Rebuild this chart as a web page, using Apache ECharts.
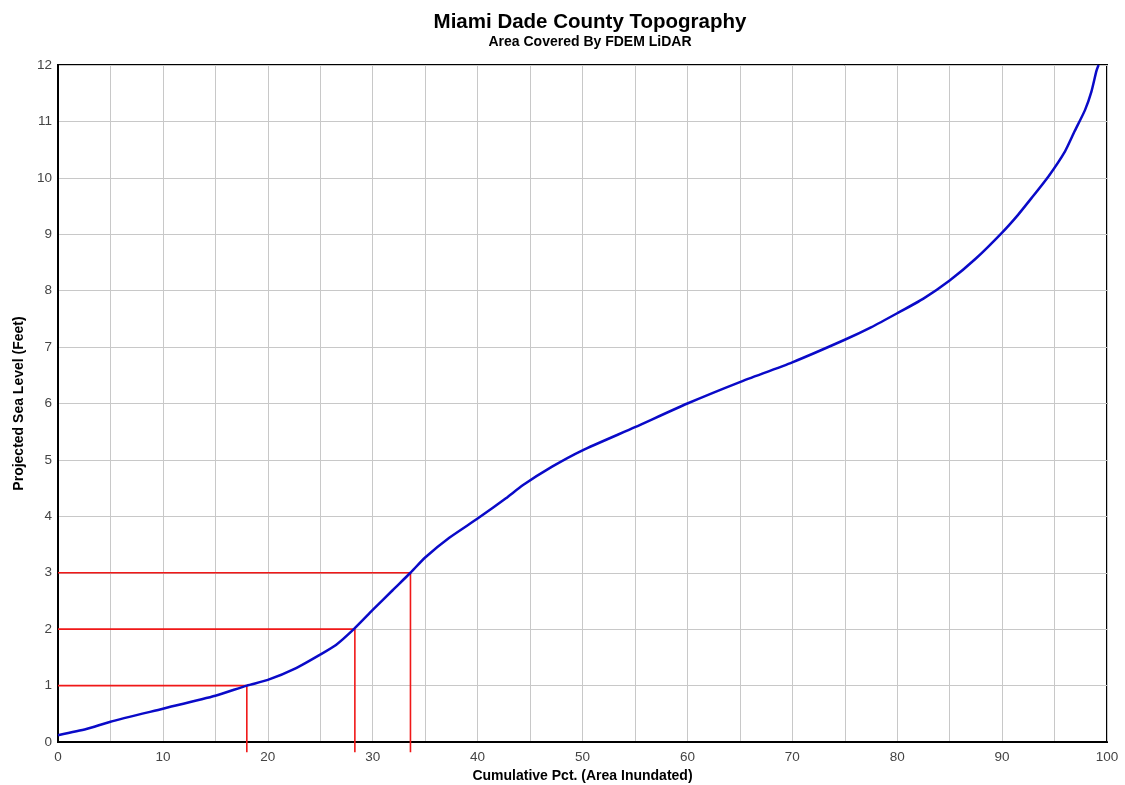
<!DOCTYPE html>
<html>
<head>
<meta charset="utf-8">
<script src="https://cdn.jsdelivr.net/npm/echarts@6/dist/echarts.min.js"></script>
<style>
  html, body { margin: 0; padding: 0; background: #fff; }
  #chart { width: 1125px; height: 785px; }
</style>
</head>
<body>
<div id="chart"></div>
<script>
// cumulative pct of area vs projected sea level
const pctArea = [0, 2.7, 5, 10, 15, 18, 20, 22.7, 25, 26.5, 28.2, 30, 31.9, 33.6, 35, 37.3, 40, 42.7, 44.3, 47.1, 50, 55, 60, 65, 70, 75, 77.5, 80, 82.5, 85, 87.5, 90, 91.5, 92.8, 94.4, 96, 96.9, 97.9, 98.5, 99, 99.2]
const seaLevel = [0.12, 0.23, 0.36, 0.59, 0.82, 1.0, 1.1, 1.31, 1.55, 1.72, 2.0, 2.34, 2.69, 3.0, 3.27, 3.62, 3.96, 4.32, 4.55, 4.88, 5.17, 5.58, 6.0, 6.38, 6.73, 7.13, 7.35, 7.6, 7.86, 8.18, 8.57, 9.03, 9.34, 9.64, 10.02, 10.47, 10.82, 11.2, 11.52, 11.9, 12.0]

// red guide lines at 1, 2, 3 ft
const guideFeet = [1, 2, 3]
const guidePct = [18, 28.3, 33.6]
const guideBelow = -0.18 // how far the vertical guides run past the axis

const font = 'Liberation Sans, Arial, sans-serif'

const curve = pctArea.map((x, i) => [x, seaLevel[i]])

const guides = guideFeet.map((ft, i) => ({
    type: 'line',
    data: [[0, ft], [guidePct[i], ft], [guidePct[i], guideBelow]],
    symbol: 'none',
    clip: false,
    silent: true,
    lineStyle: { color: '#f01818', width: 1.6 },
    z: 2
}))

const chart = echarts.init(document.getElementById('chart'), null, { renderer: 'canvas' })
chart.setOption({
    animation: false,
    backgroundColor: '#fff',
    title: {
        text: 'Miami Dade County Topography',
        subtext: 'Area Covered By FDEM LiDAR',
        left: 585,
        top: 7,
        textAlign: 'center',
        itemGap: 2,
        textStyle: { fontFamily: font, fontSize: 20.5, fontWeight: 'bold', color: '#000' },
        subtextStyle: { fontFamily: font, fontSize: 14, fontWeight: 'bold', color: '#000' }
    },
    grid: {
        left: 58, right: 18, top: 65, bottom: 43,
        outerBoundsMode: 'none',
        show: true, borderColor: '#000', borderWidth: 2
    },
    xAxis: {
        type: 'value',
        min: 0,
        max: 100,
        interval: 5,
        name: 'Cumulative Pct. (Area Inundated)',
        nameLocation: 'middle',
        nameGap: 27,
        nameTextStyle: { fontFamily: font, fontSize: 14, fontWeight: 'bold', color: '#000' },
        axisLine: { show: true, onZero: false, lineStyle: { color: '#000', width: 2 } },
        axisTick: { show: false },
        axisLabel: {
            fontFamily: font, fontSize: 13.5, color: '#444', margin: 8,
            formatter: v => (v % 10 === 0 ? v : '')
        },
        splitLine: { show: true, lineStyle: { color: '#c8c8c8', width: 1 } }
    },
    yAxis: {
        type: 'value',
        min: 0,
        max: 12,
        interval: 1,
        name: 'Projected Sea Level (Feet)',
        nameLocation: 'middle',
        nameGap: 32,
        nameTextStyle: { fontFamily: font, fontSize: 14, fontWeight: 'bold', color: '#000' },
        axisLine: { show: true, onZero: false, lineStyle: { color: '#000', width: 2 } },
        axisTick: { show: false },
        axisLabel: { fontFamily: font, fontSize: 13.5, color: '#444', margin: 6 },
        splitLine: { show: true, lineStyle: { color: '#c8c8c8', width: 1 } }
    },
    series: [
        ...guides,
        {
            type: 'line',
            data: curve,
            symbol: 'none',
            smooth: 0.2,
            silent: true,
            lineStyle: { color: '#0a0ac8', width: 2.5 },
            z: 3
        }
    ]
})
</script>
</body>
</html>
